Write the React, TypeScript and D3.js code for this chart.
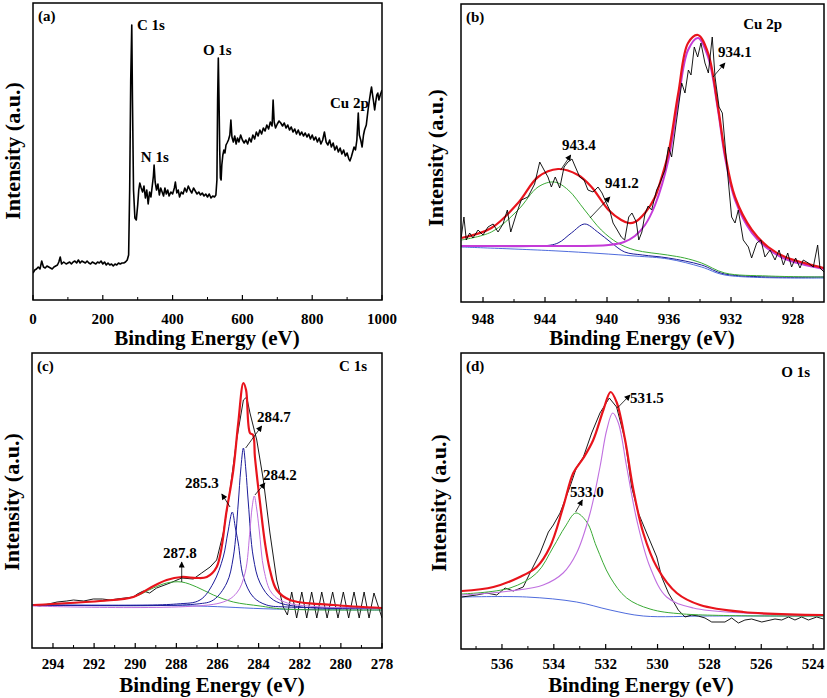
import React from "react";
import * as d3 from "d3";

type Pt = [number, number];

const FONT = "Liberation Serif, Times New Roman, DejaVu Serif, serif";

// ---------- (a) survey spectrum: [binding energy eV, intensity a.u.]
const surveySpectrum: Pt[] = [
  [0, 27], [5, 30], [10, 31], [15, 33], [20, 31], [25, 39], [30, 33], [35, 32], [40, 34], [45, 33],
  [50, 32], [55, 31], [60, 33], [65, 34], [70, 35], [74, 38], [78, 43], [82, 36], [88, 38], [95, 36],
  [100, 37], [105, 38], [110, 36], [115, 38], [120, 39], [125, 37], [130, 40], [135, 37], [140, 39],
  [145, 38], [150, 37], [155, 39], [160, 37], [165, 36], [170, 38], [175, 37], [180, 36], [185, 38],
  [190, 37], [195, 39], [200, 36], [205, 38], [210, 35], [215, 37], [220, 35], [225, 36], [230, 34],
  [235, 36], [240, 35], [245, 37], [250, 36], [255, 37], [260, 37], [265, 38], [270, 40], [274, 45],
  [277, 110], [280, 220], [283, 275], [285, 200], [288, 110], [292, 82], [296, 80], [300, 95],
  [303, 110], [306, 117], [310, 112], [314, 108], [318, 114], [322, 102], [326, 110], [330, 96],
  [334, 108], [338, 103], [342, 115], [345, 124], [347, 135], [350, 118], [354, 110], [358, 116],
  [362, 105], [366, 112], [370, 108], [374, 104], [378, 112], [382, 106], [386, 110], [390, 104],
  [395, 108], [400, 106], [405, 112], [408, 118], [412, 107], [416, 110], [420, 103], [425, 108],
  [430, 106], [435, 112], [440, 108], [445, 114], [450, 110], [455, 107], [460, 112], [465, 109],
  [470, 106], [475, 108], [480, 105], [485, 107], [490, 104], [495, 106], [500, 103], [505, 106],
  [510, 102], [515, 104], [520, 103], [524, 105], [527, 120], [529, 200], [531, 242], [533, 200],
  [535, 150], [537, 122], [539, 120], [541, 135], [544, 145], [547, 150], [550, 147], [553, 155],
  [556, 157], [560, 160], [564, 165], [567, 180], [570, 163], [574, 158], [578, 164], [582, 156],
  [586, 162], [590, 158], [595, 165], [600, 160], [605, 157], [610, 160], [615, 156], [620, 162],
  [625, 158], [630, 165], [635, 161], [640, 168], [645, 164], [650, 170], [655, 166], [660, 172],
  [665, 169], [670, 175], [675, 171], [680, 178], [685, 174], [688, 200], [691, 178], [695, 172],
  [700, 176], [705, 179], [710, 177], [715, 174], [720, 177], [725, 172], [730, 175], [735, 170],
  [740, 173], [745, 168], [750, 171], [755, 166], [760, 170], [765, 165], [770, 168], [775, 164],
  [780, 167], [785, 163], [790, 166], [795, 161], [800, 165], [805, 160], [810, 163], [815, 158],
  [820, 162], [825, 156], [830, 160], [835, 168], [840, 158], [845, 155], [850, 160], [855, 153],
  [860, 157], [865, 150], [870, 154], [875, 148], [880, 152], [885, 146], [890, 150], [895, 144],
  [900, 147], [905, 141], [908, 139], [912, 143], [916, 148], [920, 153], [924, 150], [928, 160],
  [932, 187], [935, 165], [939, 160], [943, 153], [947, 165], [950, 170], [955, 175], [960, 190],
  [964, 200], [967, 207], [970, 213], [973, 205], [976, 198], [979, 190], [982, 198], [985, 205],
  [988, 207], [991, 200], [995, 205], [1000, 210],
];
const surveyTicks = [0, 200, 400, 600, 800, 1000];
const surveyMinorTicks = [100, 300, 500, 700, 900];

// ---------- (b) Cu 2p
const cuRaw: Pt[] = [
  [949.4, 65], [949.23, 85], [949.08, 62], [948.86, 69], [948.65, 64], [948.32, 72], [948.0, 67],
  [947.68, 75], [947.35, 78], [947.03, 70], [946.71, 78], [946.43, 92], [946.21, 70], [945.85, 88],
  [945.53, 102], [945.1, 105], [944.67, 118], [944.34, 140], [944.06, 132], [943.81, 125],
  [943.59, 115], [943.34, 125], [943.05, 114], [942.77, 135], [942.52, 140], [942.26, 143],
  [942.04, 135], [941.76, 125], [941.48, 122], [941.23, 112], [940.9, 110], [940.58, 115],
  [940.32, 109], [940.04, 99], [939.83, 92], [939.61, 79], [939.34, 72], [939.08, 65], [938.86, 62],
  [938.6, 85], [938.39, 89], [938.11, 80], [937.95, 62], [937.75, 70], [937.55, 88], [937.35, 96],
  [937.12, 92], [936.8, 112], [936.58, 119], [936.26, 132], [936.04, 155], [935.83, 145],
  [935.51, 182], [935.18, 219], [934.97, 209], [934.75, 232], [934.58, 227], [934.37, 255],
  [934.15, 245], [933.94, 259], [933.68, 239], [933.46, 229], [933.21, 265], [933.03, 225],
  [932.77, 195], [932.56, 189], [932.28, 139], [931.96, 85], [931.74, 79], [931.53, 92],
  [931.21, 62], [930.88, 55], [930.67, 44], [930.34, 59], [930.07, 62], [929.81, 45], [929.48, 52],
  [929.16, 42], [928.9, 52], [928.62, 37], [928.34, 49], [928.09, 35], [927.83, 44], [927.55, 34],
  [927.34, 42], [927.01, 39], [926.69, 35], [926.41, 57], [926.26, 34], [926.0, 30],
];
const cuEnvelope: Pt[] = [
  [949.4, 64], [947.46, 74], [945.74, 99], [944.45, 125], [943.16, 133], [941.87, 127], [941.0, 115],
  [939.9, 92], [939.08, 82], [938.6, 79], [938.2, 80], [937.55, 89], [936.9, 105], [936.47, 125],
  [936.04, 149], [935.4, 209], [934.77, 259], [934.13, 267], [933.48, 249], [932.84, 195],
  [932.39, 149], [931.74, 105], [930.65, 72], [929.6, 55], [928.5, 45], [926.0, 34],
];
const cuPeak934: Pt[] = [
  [949.4, 56], [946.0, 56], [943.16, 56], [939.9, 57], [938.9, 60], [938.2, 66], [937.55, 77],
  [936.9, 97], [936.04, 142], [935.4, 202], [934.77, 252], [934.13, 264], [933.48, 245],
  [932.84, 192], [932.39, 145], [931.74, 102], [930.65, 69], [929.6, 53], [928.5, 43], [926.0, 33],
];
const cuPeak943: Pt[] = [
  [949.4, 62], [947.46, 70], [945.74, 92], [944.45, 115], [943.4, 120], [942.5, 112], [941.44, 92],
  [940.37, 72], [939.3, 59], [938.2, 52], [936.1, 47], [935.0, 44], [933.9, 39], [932.4, 29],
  [929.6, 26], [926.0, 25],
];
const cuPeak941: Pt[] = [
  [949.4, 56], [944.2, 56], [943.16, 59], [942.3, 69], [941.44, 78], [940.6, 70], [939.7, 59],
  [938.86, 50], [937.7, 47], [936.04, 44], [933.9, 37], [932.4, 28], [926.0, 25],
];
const cuBackground: Pt[] = [
  [949.4, 55], [943.16, 51], [938.2, 46], [936.04, 43], [933.9, 35], [932.4, 27], [926.0, 24],
];
const cuTicks = [948, 944, 940, 936, 932, 928];
const cuMinorTicks = [946, 942, 938, 934, 930];

// ---------- (c) C 1s
const cRaw: Pt[] = [
  [294.96, 43], [294.63, 42], [293.8, 46], [293.33, 47], [293.0, 48], [292.5, 47], [292.04, 49],
  [291.6, 49], [291.2, 48], [290.9, 49], [290.5, 50], [290.09, 51], [289.9, 54], [289.61, 57],
  [289.3, 55], [288.96, 60], [288.31, 65], [287.74, 70], [287.18, 69], [286.77, 75], [286.36, 81],
  [286.04, 88], [285.72, 115], [285.39, 158], [285.07, 208], [284.74, 248], [284.58, 251],
  [284.42, 235], [284.09, 208], [283.77, 168], [283.45, 115], [283.12, 68], [282.8, 41], [282.6, 33],
  [282.39, 56], [282.15, 30], [281.9, 56], [281.66, 30], [281.42, 56], [281.17, 30], [280.93, 56],
  [280.67, 30], [280.4, 56], [280.14, 30], [279.88, 56], [279.62, 30], [279.36, 56], [279.11, 30],
  [278.87, 56], [278.63, 30], [278.39, 55], [278.0, 30],
];
const cEnvelope: Pt[] = [
  [294.96, 43], [291.71, 47], [290.09, 51], [289.28, 60], [288.47, 68], [287.74, 71], [287.01, 70],
  [286.52, 71], [286.04, 81], [285.55, 138], [285.23, 178], [284.99, 225], [284.74, 265],
  [284.61, 258], [284.42, 215], [284.27, 213], [284.18, 191], [283.93, 145], [283.69, 105],
  [283.45, 78], [283.12, 58], [282.47, 48], [280.37, 43], [278.0, 40],
];
const cPeak2878: Pt[] = [
  [294.96, 43], [291.71, 47], [290.09, 51], [289.12, 60], [288.47, 65], [287.74, 66], [287.01, 61],
  [286.2, 53], [285.23, 46], [283.93, 42], [282.8, 39], [278.0, 38],
];
const cPeak2853: Pt[] = [
  [295.0, 43], [288.0, 44], [286.85, 48], [286.2, 65], [285.72, 91], [285.5, 115], [285.28, 136],
  [285.13, 120], [284.99, 105], [284.74, 71], [284.26, 51], [283.61, 43], [282.6, 41], [278.0, 40],
];
const cPeak2847: Pt[] = [
  [295.0, 43], [287.0, 44], [286.2, 48], [285.55, 65], [285.23, 91], [284.99, 145], [284.87, 178],
  [284.74, 200], [284.62, 178], [284.5, 145], [284.26, 91], [283.93, 65], [283.28, 48],
  [281.9, 41], [278.0, 40],
];
const cPeak2842: Pt[] = [
  [295.0, 42], [285.88, 45], [285.07, 55], [284.66, 75], [284.42, 118], [284.32, 140], [284.21, 152],
  [284.1, 140], [283.97, 118], [283.74, 78], [283.36, 55], [282.6, 45], [278.0, 40],
];
const cBackground: Pt[] = [[295.0, 43], [287.0, 42], [283.3, 39], [278.0, 38]];
const cTicks = [294, 292, 290, 288, 286, 284, 282, 280, 278];
const cMinorTicks = [293, 291, 289, 287, 285, 283, 281, 279];

// ---------- (d) O 1s
const oRaw: Pt[] = [
  [537.55, 52], [536.98, 54], [536.59, 56], [536.2, 54], [535.88, 61], [535.56, 58], [535.18, 62],
  [534.92, 76], [534.53, 96], [534.21, 117], [534.02, 124], [533.76, 136], [533.38, 162],
  [533.12, 182], [532.86, 192], [532.54, 216], [532.22, 236], [531.86, 251], [531.58, 242],
  [531.25, 209], [531.0, 162], [530.74, 136], [530.42, 116], [530.03, 92], [529.84, 72],
  [529.58, 56], [529.2, 39], [528.94, 32], [528.68, 34], [528.43, 33], [528.17, 31], [527.91, 27],
  [527.4, 27], [527.14, 31], [526.88, 26], [526.63, 29], [526.37, 30], [525.98, 27], [525.47, 30],
  [525.21, 29], [524.95, 32], [524.7, 29], [524.44, 32], [524.18, 29], [523.86, 32], [523.6, 30],
];
const oEnvelope: Pt[] = [
  [537.55, 58], [536.33, 62], [535.31, 72], [534.66, 82], [534.15, 102], [533.64, 142],
  [533.25, 176], [532.86, 191], [532.48, 209], [532.09, 239], [531.81, 257], [531.58, 247],
  [531.25, 209], [530.93, 159], [530.55, 116], [530.03, 82], [529.26, 56], [528.36, 44],
  [526.69, 37], [523.6, 34],
];
const oPeak5330: Pt[] = [
  [537.55, 55], [535.69, 61], [534.66, 76], [534.02, 102], [533.57, 122], [533.15, 136],
  [532.73, 127], [532.35, 102], [531.83, 72], [531.19, 51], [530.29, 40], [529.0, 35], [523.6, 33],
];
const oPeak5315: Pt[] = [
  [537.55, 54], [535.69, 58], [534.41, 64], [533.64, 76], [533.12, 96], [532.6, 136], [532.22, 182],
  [531.96, 219], [531.73, 236], [531.51, 226], [531.19, 182], [530.8, 129], [530.29, 82],
  [529.65, 52], [528.62, 41], [526.69, 36], [523.6, 34],
];
const oBackground: Pt[] = [
  [537.55, 52], [535.05, 52], [533.12, 47], [531.83, 39], [530.55, 33], [528.0, 33], [523.6, 33],
];
const oTicks = [536, 534, 532, 530, 528, 526, 524];
const oMinorTicks = [537, 535, 533, 531, 529, 527, 525];

// ---------- styles
const RED = "#e8141c";
const MAGENTA = "#c43ad8";
const VIOLET = "#c070e0";
const GREEN = "#3aaa35";
const NAVY = "#1c1c9a";
const BLUE = "#3a5ad8";

interface Series { data: Pt[]; color: string; width: number; smooth?: boolean }
interface Note { text: string; at: Pt; anchor?: "start" | "end" | "middle"; arrow?: [Pt, Pt] }
interface Panel {
  id: string; tag: string;
  left: number; right: number; top: number; bottom: number;
  domain: [number, number];
  major: number[]; minor: number[];
  series: Series[]; notes: Note[];
  tickBaseline: number; titleX: number; titleBaseline: number;
  yTitleX: number; yTitleY: number;
}

const panels: Panel[] = [
  {
    id: "a", tag: "(a)", left: 33, right: 382, top: 3, bottom: 300, domain: [0, 1000],
    major: surveyTicks, minor: surveyMinorTicks,
    series: [{ data: surveySpectrum, color: "#000", width: 1.6 }],
    notes: [
      { text: "C 1s", at: [298, 270] },
      { text: "O 1s", at: [487, 245] },
      { text: "N 1s", at: [309, 138] },
      { text: "Cu 2p", at: [851, 192] },
    ],
    tickBaseline: 324, titleX: 207, titleBaseline: 345, yTitleX: 20, yTitleY: 151,
  },
  {
    id: "b", tag: "(b)", left: 461, right: 824, top: 4, bottom: 302, domain: [949.42, 926.0],
    major: cuTicks, minor: cuMinorTicks,
    series: [
      { data: cuBackground, color: BLUE, width: 0.9, smooth: true },
      { data: cuPeak941, color: NAVY, width: 1, smooth: true },
      { data: cuPeak943, color: GREEN, width: 1, smooth: true },
      { data: cuPeak934, color: MAGENTA, width: 2, smooth: true },
      { data: cuEnvelope, color: RED, width: 2.2, smooth: true },
      { data: cuRaw, color: "#000", width: 0.9 },
    ],
    notes: [
      { text: "Cu 2p", at: [928.71, 273], anchor: "end" },
      { text: "943.4", at: [942.9, 152], arrow: [[942.99, 132], [942.34, 147]] },
      { text: "941.2", at: [940.13, 114], arrow: [[941.1, 84], [939.81, 105]] },
      { text: "934.1", at: [932.84, 245], arrow: [[933.16, 225], [932.39, 239]] },
    ],
    tickBaseline: 324, titleX: 642, titleBaseline: 345, yTitleX: 443, yTitleY: 158,
  },
  {
    id: "c", tag: "(c)", left: 32, right: 382, top: 353, bottom: 648, domain: [295.02, 278.0],
    major: cTicks, minor: cMinorTicks,
    series: [
      { data: cBackground, color: BLUE, width: 0.9, smooth: true },
      { data: cRaw, color: "#000", width: 0.9 },
      { data: cPeak2878, color: GREEN, width: 1, smooth: true },
      { data: cPeak2853, color: NAVY, width: 1, smooth: true },
      { data: cPeak2847, color: NAVY, width: 1, smooth: true },
      { data: cPeak2842, color: VIOLET, width: 1, smooth: true },
      { data: cEnvelope, color: RED, width: 2.2, smooth: true },
    ],
    notes: [
      { text: "C 1s", at: [278.73, 277], anchor: "end" },
      { text: "284.7", at: [284.08, 226], arrow: [[284.63, 200], [283.85, 222]] },
      { text: "284.2", at: [283.79, 168], arrow: [[284.18, 153], [283.69, 165]] },
      { text: "285.3", at: [287.58, 160], arrow: [[285.39, 141], [285.79, 154]] },
      { text: "287.8", at: [288.65, 90], arrow: [[287.74, 66], [287.74, 86]] },
    ],
    tickBaseline: 669, titleX: 212, titleBaseline: 692, yTitleX: 19, yTitleY: 502,
  },
  {
    id: "d", tag: "(d)", left: 461, right: 824, top: 353, bottom: 649, domain: [537.58, 523.58],
    major: oTicks, minor: oMinorTicks,
    series: [
      { data: oBackground, color: BLUE, width: 0.9, smooth: true },
      { data: oRaw, color: "#000", width: 0.9 },
      { data: oPeak5330, color: GREEN, width: 1, smooth: true },
      { data: oPeak5315, color: VIOLET, width: 1.1, smooth: true },
      { data: oEnvelope, color: RED, width: 2.2, smooth: true },
    ],
    notes: [
      { text: "O 1s", at: [524.12, 272], anchor: "end" },
      { text: "531.5", at: [531.06, 246], arrow: [[531.55, 241], [531.06, 254]] },
      { text: "533.0", at: [533.38, 152], arrow: [[533.16, 137], [532.9, 149]] },
    ],
    tickBaseline: 669, titleX: 641, titleBaseline: 692, yTitleX: 446, yTitleY: 503,
  },
];

const textStyle: React.CSSProperties = { fontFamily: FONT, fontWeight: 700 };

function PanelView({ p }: { p: Panel }) {
  const x = d3.scaleLinear().domain(p.domain).range([p.left, p.right]);
  const y = d3.scaleLinear().domain([0, p.bottom - p.top]).range([p.bottom, p.top]);
  const makePath = (s: Series) =>
    d3.line<Pt>()
      .x((d) => x(d[0]))
      .y((d) => y(d[1]))
      .curve(s.smooth ? d3.curveCatmullRom.alpha(0.5) : d3.curveLinear)(s.data) || "";

  return (
    <g>
      <g clipPath={`url(#clip-${p.id})`}>
        {p.series.map((s, i) => (
          <path key={i} d={makePath(s)} fill="none" stroke={s.color} strokeWidth={s.width}
            strokeLinejoin="round" />
        ))}
      </g>
      <rect x={p.left} y={p.top} width={p.right - p.left} height={p.bottom - p.top}
        fill="none" stroke="#000" strokeWidth={1.5} />
      {p.major.map((t) => (
        <g key={`M${t}`}>
          <line x1={x(t)} x2={x(t)} y1={p.bottom} y2={p.bottom - 5} stroke="#000" strokeWidth={1.2} />
          <text x={x(t)} y={p.tickBaseline} textAnchor="middle" fontSize={15} style={textStyle}>{t}</text>
        </g>
      ))}
      {p.minor.map((t) => (
        <line key={`m${t}`} x1={x(t)} x2={x(t)} y1={p.bottom} y2={p.bottom - 3} stroke="#000" strokeWidth={1} />
      ))}
      <text x={p.left + 5} y={p.top + 18} fontSize={15} style={textStyle}>{p.tag}</text>
      {p.notes.map((n, i) => (
        <g key={i}>
          {n.arrow && (
            <line x1={x(n.arrow[0][0])} y1={y(n.arrow[0][1])} x2={x(n.arrow[1][0])} y2={y(n.arrow[1][1])}
              stroke="#000" strokeWidth={0.8} markerEnd="url(#ah)" />
          )}
          <text x={x(n.at[0])} y={y(n.at[1])} textAnchor={n.anchor || "start"} fontSize={15} style={textStyle}>
            {n.text}
          </text>
        </g>
      ))}
      <text x={p.titleX} y={p.titleBaseline} textAnchor="middle" fontSize={21} style={textStyle}>
        Binding Energy (eV)
      </text>
      <text transform={`translate(${p.yTitleX},${p.yTitleY}) rotate(-90)`} textAnchor="middle"
        fontSize={22} style={textStyle}>
        Intensity (a.u.)
      </text>
    </g>
  );
}

export default function App() {
  return (
    <svg width={827} height={698} style={{ position: "absolute", left: 0, top: 0, background: "#fff" }}>
      <defs>
        <marker id="ah" viewBox="0 0 10 10" refX="9" refY="5" markerWidth={7} markerHeight={6}
          markerUnits="userSpaceOnUse" orient="auto">
          <path d="M0,0L10,5L0,10z" fill="#000" />
        </marker>
        {panels.map((p) => (
          <clipPath key={p.id} id={`clip-${p.id}`}>
            <rect x={p.left} y={p.top} width={p.right - p.left} height={p.bottom - p.top} />
          </clipPath>
        ))}
      </defs>
      {panels.map((p) => <PanelView key={p.id} p={p} />)}
    </svg>
  );
}
